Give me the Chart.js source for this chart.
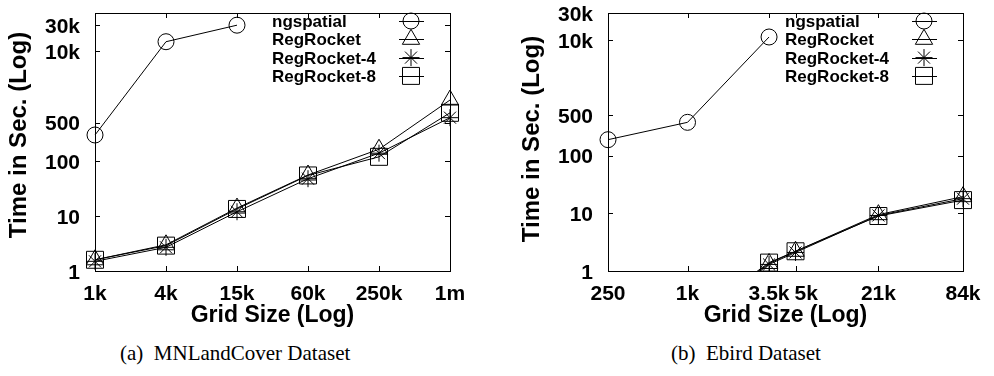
<!DOCTYPE html>
<html>
<head>
<meta charset="utf-8">
<script src="https://cdn.jsdelivr.net/npm/chart.js@4.4.1/dist/chart.umd.min.js"></script>
<style>
  body { margin: 0; background: #fff; }
  #page { position: relative; width: 994px; height: 376px; overflow: hidden; }
  canvas { position: absolute; top: 0; }
  #chartA { left: 0; }
  #chartB { left: 497px; }
  .caption {
    position: absolute; top: 343px; color: #000;
    font-family: "Liberation Serif", "DejaVu Serif", serif;
    font-size: 21px; line-height: 21px; white-space: pre;
  }
</style>
</head>
<body>
<div id="page">
  <canvas id="chartA" width="497" height="335"></canvas>
  <canvas id="chartB" width="497" height="335"></canvas>
  <div class="caption" style="left:120px">(a)  MNLandCover Dataset</div>
  <div class="caption" style="left:671px">(b)  Ebird Dataset</div>
</div>
<script>
const seriesNames = ["ngspatial", "RegRocket", "RegRocket-4", "RegRocket-8"];

// (a) MNLandCover
const gridA = ["1k", "4k", "15k", "60k", "250k", "1m"];
const ngspatialA = [300, 15000, 30000, null, null, null];
const regRocketA = [1.6, 3.0, 14, 56, 165, 1300];
const regRocket4A = [1.5, 2.7, 12, 48, 140, 620];
const regRocket8A = [1.6, 2.9, 13.5, 55, 120, 760];

// (b) Ebird
const gridB = [250, 920, 3500, 5400, 21000, 84000];
const gridLabelsB = ["250", "1k", "3.5k", "5k", "21k", "84k"];
const ngspatialB = [190, 380, 11500, null, null, null];
const regRocketB = [null, 0.13, 1.35, 2.2, 9.5, 19.5];
const regRocket4B = [null, 0.12, 1.3, 2.1, 9.2, 18];
const regRocket8B = [null, 0.13, 1.4, 2.2, 9.0, 17];

const timeTicks = [1, 10, 100, 500, 10000, 30000];
const timeTickLabels = ["1", "10", "100", "500", "10k", "30k"];

const markers = [
  { pointStyle: "circle", radius: 8 },
  { pointStyle: "triangle", radius: 10 },
  { pointStyle: "star", radius: 8.5 },
  { pointStyle: "rect", radius: 12 },
];

function makeDataset(i, data) {
  return {
    label: seriesNames[i],
    data: data,
    borderColor: "#000",
    borderWidth: 1,
    pointStyle: markers[i].pointStyle,
    pointRadius: markers[i].radius,
    pointBorderColor: "#000",
    pointBackgroundColor: "rgba(0,0,0,0)",
    pointBorderWidth: 1,
    tension: 0,
    fill: false,
  };
}

// gnuplot style box, inward tics, labels and key
const gnuplotLook = {
  id: "gnuplotLook",
  afterDraw(chart, args, o) {
    const ctx = chart.ctx;
    const a = chart.chartArea;
    const xs = chart.scales.x;
    const ys = chart.scales.y;
    ctx.save();
    ctx.strokeStyle = "#000";
    ctx.fillStyle = "#000";
    ctx.lineWidth = 1;

    ctx.strokeRect(a.left + 0.5, a.top + 0.5, a.right - a.left, a.bottom - a.top);

    ctx.beginPath();
    o.yTicks.forEach((v) => {
      const py = Math.round(ys.getPixelForValue(v)) + 0.5;
      ctx.moveTo(a.left, py); ctx.lineTo(a.left + 5, py);
      ctx.moveTo(a.right, py); ctx.lineTo(a.right - 5, py);
    });
    o.xTicks.forEach((v) => {
      const px = Math.round(xs.getPixelForValue(v)) + 0.5;
      ctx.moveTo(px, a.bottom); ctx.lineTo(px, a.bottom - 5);
      ctx.moveTo(px, a.top); ctx.lineTo(px, a.top + 5);
    });
    ctx.stroke();

    ctx.font = "bold 21px 'Liberation Sans', Arial, sans-serif";
    ctx.textAlign = "right";
    o.yTicks.forEach((v, i) => {
      ctx.fillText(o.yLabels[i], a.left - 15, ys.getPixelForValue(v) + 7.5);
    });
    ctx.textAlign = "left";
    let lastRight = -Infinity;
    o.xTicks.forEach((v, i) => {
      const w = ctx.measureText(o.xLabels[i]).width;
      let left = xs.getPixelForValue(v) - w / 2;
      if (left < lastRight + 5) left = lastRight + 5;
      ctx.fillText(o.xLabels[i], left, a.bottom + 29);
      lastRight = left + w;
    });

    ctx.font = "bold 23px 'Liberation Sans', Arial, sans-serif";
    ctx.textAlign = "center";
    ctx.fillText(o.xTitle, (a.left + a.right) / 2, a.bottom + 51);
    ctx.font = "bold 24px 'Liberation Sans', Arial, sans-serif";
    ctx.save();
    ctx.translate(o.yTitleX, o.yTitleY);
    ctx.rotate(-Math.PI / 2);
    ctx.fillText(o.yTitle, 0, 0);
    ctx.restore();

    // key
    ctx.font = "bold 17px 'Liberation Sans', Arial, sans-serif";
    ctx.textAlign = "left";
    chart.data.datasets.forEach((ds, i) => {
      const ry = o.keyTop + i * 18.3;
      ctx.fillStyle = "#000";
      ctx.fillText(ds.label, o.keyTextX, ry + 6);
      ctx.beginPath();
      ctx.moveTo(o.keyMarkX - 12, Math.round(ry) + 0.5);
      ctx.lineTo(o.keyMarkX + 13, Math.round(ry) + 0.5);
      ctx.stroke();
      ctx.fillStyle = "rgba(0,0,0,0)";
      Chart.helpers.drawPoint(ctx, {
        pointStyle: ds.pointStyle, radius: ds.pointRadius, rotation: 0, borderWidth: 1,
      }, o.keyMarkX, ry);
    });
    ctx.restore();
  },
};

new Chart(document.getElementById("chartA"), {
  type: "line",
  data: {
    labels: gridA,
    datasets: [
      makeDataset(0, ngspatialA),
      makeDataset(1, regRocketA),
      makeDataset(2, regRocket4A),
      makeDataset(3, regRocket8A),
    ],
  },
  options: {
    responsive: false,
    animation: false,
    layout: { padding: { left: 95, top: 8, right: 47, bottom: 64 } },
    scales: {
      x: { type: "category", display: false, offset: false },
      y: { type: "logarithmic", display: false, min: 1, max: 50000 },
    },
    plugins: {
      legend: { display: false },
      tooltip: { enabled: false },
      gnuplotLook: {
        xTicks: [0, 1, 2, 3, 4, 5],
        xLabels: gridA,
        yTicks: timeTicks,
        yLabels: timeTickLabels,
        xTitle: "Grid Size (Log)",
        yTitle: "Time in Sec. (Log)",
        yTitleX: 26,
        yTitleY: 135,
        keyTop: 21,
        keyTextX: 272,
        keyMarkX: 411,
      },
    },
  },
  plugins: [gnuplotLook],
});

function pointsB(values) {
  return gridB.map((g, i) => ({ x: g, y: values[i] }));
}

new Chart(document.getElementById("chartB"), {
  type: "line",
  data: {
    datasets: [
      makeDataset(0, pointsB(ngspatialB)),
      makeDataset(1, pointsB(regRocketB)),
      makeDataset(2, pointsB(regRocket4B)),
      makeDataset(3, pointsB(regRocket8B)),
    ],
  },
  options: {
    responsive: false,
    animation: false,
    layout: { padding: { left: 111, top: 8, right: 31, bottom: 64 } },
    scales: {
      x: { type: "logarithmic", display: false, bounds: "data" },
      y: { type: "logarithmic", display: false, min: 1, max: 30000 },
    },
    plugins: {
      legend: { display: false },
      tooltip: { enabled: false },
      gnuplotLook: {
        xTicks: gridB,
        xLabels: gridLabelsB,
        yTicks: timeTicks,
        yLabels: timeTickLabels,
        xTitle: "Grid Size (Log)",
        yTitle: "Time in Sec. (Log)",
        yTitleX: 42,
        yTitleY: 139,
        keyTop: 21,
        keyTextX: 288,
        keyMarkX: 427,
      },
    },
  },
  plugins: [gnuplotLook],
});
</script>
</body>
</html>
